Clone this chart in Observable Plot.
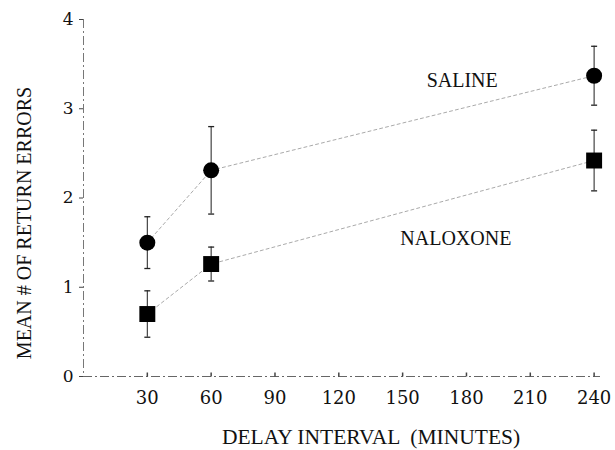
<!DOCTYPE html>
<html>
<head>
<meta charset="utf-8">
<script src="https://cdn.jsdelivr.net/npm/d3@7"></script>
<script src="https://cdn.jsdelivr.net/npm/@observablehq/plot@0.6"></script>
<style>
  html, body { margin: 0; padding: 0; background: #fff; }
  #chart svg { display: block; }
</style>
</head>
<body>
<div id="chart"></div>
<script>
// ---- data ----
const delays = [30, 60, 240];
const salineMean = [1.50, 2.31, 3.37];
const salineSem = [0.29, 0.49, 0.33];
const naloxoneMean = [0.70, 1.26, 2.42];
const naloxoneSem = [0.26, 0.19, 0.34];
const xTicks = [30, 60, 90, 120, 150, 180, 210, 240];
const yTicks = [0, 1, 2, 3, 4];
const seriesNames = ["SALINE", "NALOXONE"];
// annotation anchors (data units)
const labelDelay = [178, 175];
const labelErrors = [3.32, 1.55];
const xTitle = "DELAY INTERVAL  (MINUTES)";
const yTitle = "MEAN # OF RETURN ERRORS";

const build = (name, means, sems) => delays.map((d, i) => ({
  series: name, delay: d, mean: means[i], lo: means[i] - sems[i], hi: means[i] + sems[i]
}));
const saline = build(seriesNames[0], salineMean, salineSem);
const naloxone = build(seriesNames[1], naloxoneMean, naloxoneSem);
const rows = saline.concat(naloxone);
const labels = seriesNames.map((s, i) => ({text: s, x: labelDelay[i], y: labelErrors[i]}));

const capSymbol = { draw(ctx) { ctx.moveTo(-3, 0); ctx.lineTo(3, 0); } };
const tickUp = { draw(ctx) { ctx.moveTo(0, 0); ctx.lineTo(0, -4); } };

const serif = "'Liberation Serif', 'Times New Roman', serif";
const tickFont = "'DejaVu Serif', serif";

const chart = Plot.plot({
  width: 615,
  height: 450,
  marginLeft: 83,
  marginRight: 15,
  marginTop: 19,
  marginBottom: 74,
  style: { fontFamily: serif, fontSize: "16px", background: "#fff", color: "#111" },
  x: { domain: [0, 243] },
  y: { domain: [0, 4] },
  marks: [
    Plot.ruleY([0], { stroke: "#666", strokeDasharray: "9,3,2,3" }),
    Plot.ruleX([0], { stroke: "#777", strokeDasharray: "9,3,2,3" }),
    Plot.axisY({ ticks: yTicks, tickSize: 4, tickPadding: 6, tickFormat: d => d, label: null,
      fontFamily: tickFont, fontSize: 17, stroke: "#444" }),
    Plot.axisX({ ticks: xTicks, tickSize: 0, tickPadding: 15, tickFormat: d => d, label: null,
      fontFamily: tickFont, fontSize: 18, letterSpacing: 1 }),
    Plot.dot(xTicks, { x: d => d, frameAnchor: "bottom", symbol: tickUp, fill: "none", stroke: "#444" }),
    Plot.line(rows, { x: "delay", y: "mean", z: "series", stroke: "#aaa", strokeWidth: 1, strokeDasharray: "3,3" }),
    Plot.ruleX(rows, { x: "delay", y1: "lo", y2: "hi", stroke: "#333", strokeWidth: 1.1 }),
    Plot.dot(rows, { x: "delay", y: "lo", symbol: capSymbol, fill: "none", stroke: "#222", strokeWidth: 1.3 }),
    Plot.dot(rows, { x: "delay", y: "hi", symbol: capSymbol, fill: "none", stroke: "#222", strokeWidth: 1.3 }),
    Plot.dot(saline, { x: "delay", y: "mean", r: 8, fill: "#000" }),
    Plot.dot(naloxone, { x: "delay", y: "mean", r: 9, symbol: "square", fill: "#000" }),
    Plot.text(labels, { x: "x", y: "y", text: "text", fontSize: 20, fontFamily: serif, fill: "#111" }),
    Plot.text([xTitle], { frameAnchor: "bottom", textAnchor: "middle", lineAnchor: "middle",
      dx: 29, dy: 61, fontSize: 21.5, fontFamily: serif, fill: "#111" }),
    Plot.text([yTitle], { frameAnchor: "left", textAnchor: "middle", lineAnchor: "middle",
      dx: -59, dy: 25, rotate: -90, fontSize: 20, fontFamily: serif, fill: "#111" })
  ]
});
document.getElementById("chart").appendChild(chart);
</script>
</body>
</html>
